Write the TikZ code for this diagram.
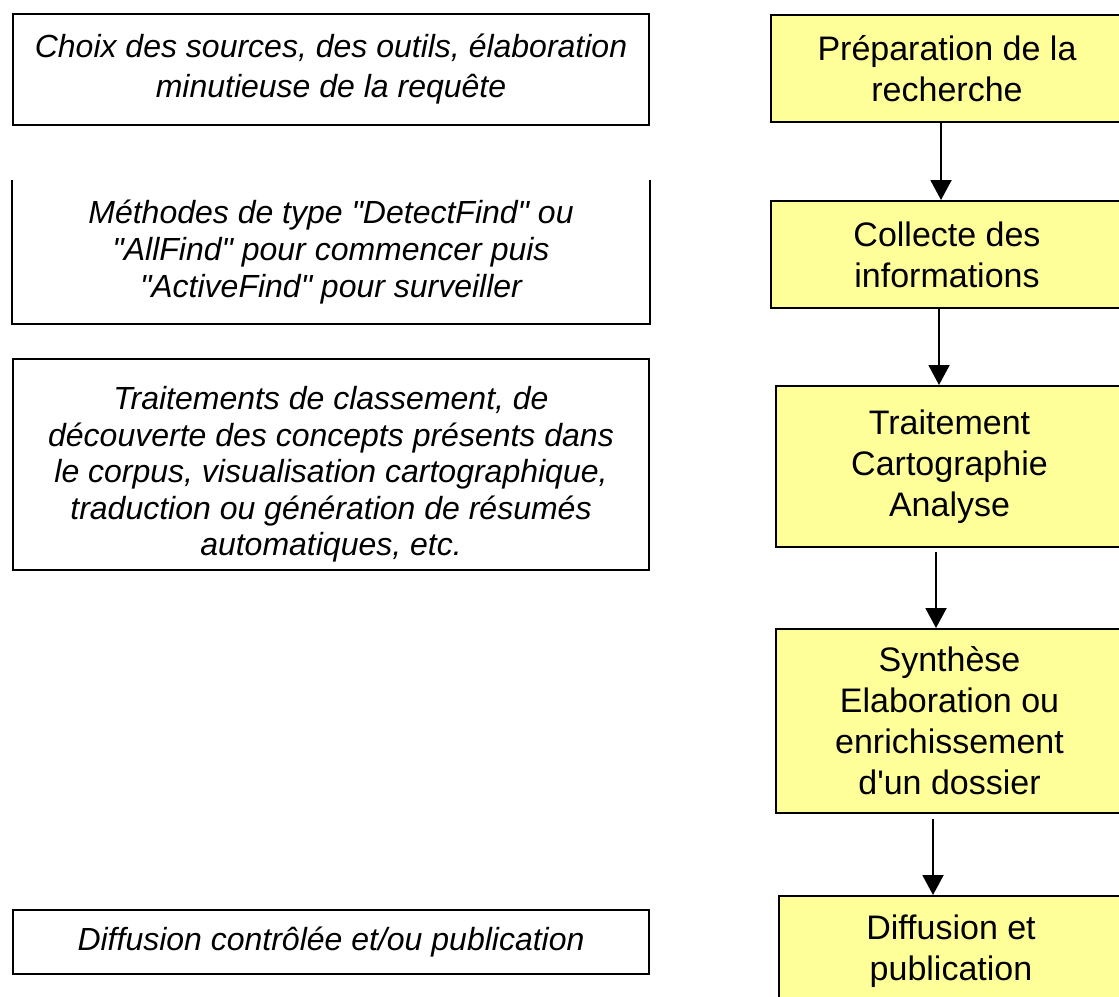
\documentclass[tikz,border=0pt]{standalone}
\usepackage{fontspec}
\setmainfont{Liberation Sans}
\usetikzlibrary{arrows.meta}
\definecolor{stepyellow}{RGB}{255,255,153}
\begin{document}
\begin{tikzpicture}[x=1pt,y=-1pt,
  lbox/.style={draw=black, line width=2pt, fill=white, rectangle, anchor=north west,
    inner sep=0pt, align=center, font=\fontsize{32}{37}\selectfont\itshape},
  ltext/.style={inner sep=0pt, align=center, font=\fontsize{32}{36.5}\selectfont\itshape},
  rbox/.style={draw=black, line width=2pt, fill=stepyellow, rectangle, anchor=north west,
    inner sep=0pt, align=center, font=\fontsize{34}{41}\selectfont},
  arr/.style={line width=2pt, -{Triangle[width=21pt,length=20pt]}}]
\useasboundingbox (0,0) rectangle (1119,996);
\fill[white] (0,0) rectangle (1119,996);
\clip (0,0) rectangle (1119,996);

% descriptions on the left
\node[lbox, minimum width=636, minimum height=111, font=\fontsize{32}{40}\selectfont\itshape] (m1) at (12,13)
  {Choix des sources, des outils, élaboration\\minutieuse de la requête};
\node[lbox, draw=none, fill=none, minimum width=636, minimum height=142] (m2) at (12,180)
  {Méthodes de type \textquotedbl DetectFind\textquotedbl\ ou\\\textquotedbl AllFind\textquotedbl\ pour commencer puis\\\textquotedbl ActiveFind\textquotedbl\ pour surveiller};
\draw[line width=2pt] (m2.north west) -- (m2.south west) -- (m2.south east) -- (m2.north east);
\node[lbox, minimum width=636, minimum height=211] (m3) at (12,358) {};
\node[ltext, yshift=-10pt] (m3t) at (m3.center)
  {Traitements de classement, de\\découverte des concepts présents dans\\le corpus, visualisation cartographique,\\traduction ou génération de résumés\\automatiques, etc.};
\node[lbox, minimum width=636, minimum height=64] (m4) at (12,909)
  {Diffusion contrôlée et/ou publication};

% process steps on the right
\node[rbox, minimum width=352, minimum height=107] (p1) at (770,14)
  {Préparation de la\\recherche};
\node[rbox, minimum width=352, minimum height=107] (p2) at (770,200)
  {Collecte des\\informations};
\node[rbox, minimum width=347, minimum height=161] (p3) at (775,385)
  {Traitement\\Cartographie\\Analyse};
\node[rbox, minimum width=347, minimum height=184] (p4) at (775,628)
  {\raisebox{0pt}{Synthèse}\\Elaboration ou\\enrichissement\\d\textquotesingle un dossier};
\node[rbox, minimum width=344, minimum height=110] (p5) at (778,895)
  {Diffusion et\\publication};

% connectors between the steps
\coordinate (c1) at (941,0);
\coordinate (c2) at (939,0);
\coordinate (c3) at (936,0);
\coordinate (c4) at (933,0);
\draw[arr] (p1.south -| c1) -- (p2.north -| c1);
\draw[arr] (p2.south -| c2) -- (p3.north -| c2);
\draw[arr, shorten <=4pt] (p3.south -| c3) -- (p4.north -| c3);
\draw[arr, shorten <=5pt] (p4.south -| c4) -- (p5.north -| c4);
\end{tikzpicture}
\end{document}
